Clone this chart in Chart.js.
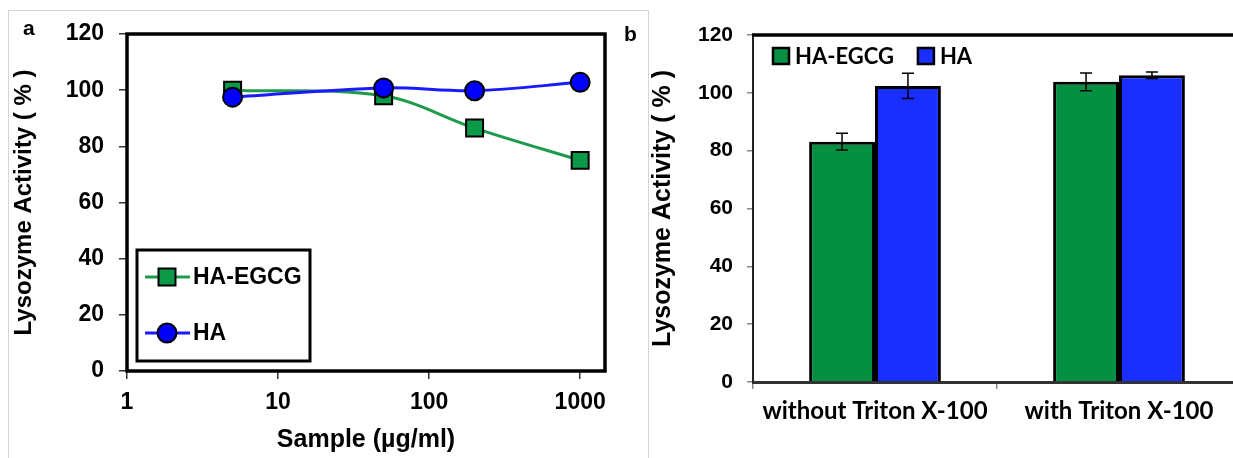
<!DOCTYPE html>
<html>
<head>
<meta charset="utf-8">
<script src="https://cdn.jsdelivr.net/npm/chart.js@4.4.1/dist/chart.umd.min.js"></script>
<style>
  html, body { margin: 0; padding: 0; background: #fff; overflow: hidden; width: 1233px; height: 458px; }
  .frame { position: absolute; left: 8px; top: 10px; width: 639px; height: 470px; border: 1px solid #d4d4d4; }
  #boxA { position: absolute; left: 0; top: 0; }
  #boxB { position: absolute; left: 620px; top: 0; }
  .tag { position: absolute; font: bold 21px 'Liberation Sans', Arial, sans-serif; color: #000; }
</style>
</head>
<body>
<div class="frame"></div>
<canvas id="boxA" width="620" height="458"></canvas>
<canvas id="boxB" width="640" height="458"></canvas>
<div class="tag" style="left:23px;top:16px">a</div>
<div class="tag" style="left:624px;top:22px">b</div>
<script>
// panel a: concentration series
const sampleConc = [5, 50, 200, 1000];
const haEgcgLine = [100, 98, 86.5, 75];
const haLine = [97.5, 100.8, 99.8, 102.8];
const xTicks = [1, 10, 100, 1000];

// panel b: Triton X-100 bars
const conditions = ['without Triton X-100', 'with Triton X-100'];
const haEgcgBar = [83.1, 103.8];
const haEgcgErr = [2.9, 3.1];
const haBar = [102.4, 106.1];
const haErr = [4.4, 1.1];

const yMax = 120;
const yStep = 20;

const GREEN = '#1e9a4c';
const BLUE = '#1a1aff';
const ARIAL = "'Liberation Sans', Arial, sans-serif";
const Y_TITLE = 'Lysozyme Activity ( % )';

const toPoints = vals => vals.map((v, i) => ({ x: sampleConc[i], y: v }));

// thick box round the plot area of panel a
const frameA = {
  id: 'frameA',
  beforeDatasetsDraw(chart) {
    const { ctx, chartArea: a } = chart;
    ctx.save();
    ctx.lineWidth = 3.5;
    ctx.strokeStyle = '#000';
    ctx.strokeRect(a.left, a.top, a.right - a.left, a.bottom - a.top);
    ctx.restore();
  }
};

// boxed legend sitting bottom-left inside the plot
const legendA = {
  id: 'legendA',
  afterDraw(chart) {
    const { ctx, chartArea: a } = chart;
    const bx = a.left + 10, by = a.bottom - 121;
    ctx.save();
    ctx.lineWidth = 3;
    ctx.strokeStyle = '#000';
    ctx.strokeRect(bx, by, 173, 111);
    chart.data.datasets.forEach((ds, i) => {
      const y = by + 27 + i * 56;
      ctx.strokeStyle = ds.borderColor;
      ctx.lineWidth = 3;
      ctx.beginPath();
      ctx.moveTo(bx + 8, y);
      ctx.lineTo(bx + 53, y);
      ctx.stroke();
      ctx.fillStyle = ds.pointBackgroundColor;
      ctx.strokeStyle = ds.pointBorderColor;
      ctx.lineWidth = ds.pointBorderWidth;
      Chart.helpers.drawPoint(ctx, { pointStyle: ds.pointStyle, radius: ds.pointRadius, borderWidth: ds.pointBorderWidth, rotation: 0 }, bx + 30, y);
      ctx.fillStyle = '#000';
      ctx.font = 'bold 23px ' + ARIAL;
      ctx.textBaseline = 'middle';
      ctx.fillText(ds.label, bx + 56, y + 1);
    });
    ctx.restore();
  }
};

new Chart(document.getElementById('boxA'), {
  type: 'line',
  data: {
    datasets: [
      {
        label: 'HA-EGCG',
        data: toPoints(haEgcgLine),
        order: 1,
        borderColor: GREEN,
        borderWidth: 3,
        tension: 0.35,
        pointStyle: 'rect',
        pointRadius: 12,
        pointBackgroundColor: '#0c9a48',
        pointBorderColor: '#000',
        pointBorderWidth: 2
      },
      {
        label: 'HA',
        data: toPoints(haLine),
        order: 0,
        borderColor: BLUE,
        borderWidth: 3,
        tension: 0.35,
        pointStyle: 'circle',
        pointRadius: 9.5,
        pointBackgroundColor: '#0000ff',
        pointBorderColor: '#000',
        pointBorderWidth: 2
      }
    ]
  },
  options: {
    responsive: false,
    animation: false,
    layout: { padding: { top: 34, right: 15, left: 0, bottom: 0 } },
    plugins: { legend: { display: false }, tooltip: { enabled: false } },
    scales: {
      x: {
        type: 'logarithmic',
        min: 1,
        max: 1460,
        afterBuildTicks: s => { s.ticks = xTicks.map(v => ({ value: v })); },
        afterFit: s => { s.height = 87; },
        border: { display: false },
        grid: { drawOnChartArea: false, drawTicks: true, tickLength: 8, color: '#333', lineWidth: 1.5 },
        ticks: { color: '#000', font: { family: ARIAL, size: 23, weight: 'bold' }, padding: 10, maxRotation: 0, callback: v => String(v) },
        title: { display: true, text: 'Sample (µg/ml)', color: '#000', font: { family: ARIAL, size: 25, weight: 'bold' }, padding: { top: 0, bottom: 3 } }
      },
      y: {
        min: 0,
        max: yMax,
        afterFit: s => { s.width = 127; },
        border: { display: false },
        grid: { drawOnChartArea: false, drawTicks: true, tickLength: 8, color: '#333', lineWidth: 1.5 },
        ticks: { stepSize: yStep, color: '#000', font: { family: ARIAL, size: 23, weight: 'bold' }, padding: 15 },
        title: { display: true, text: Y_TITLE, color: '#000', font: { family: ARIAL, size: 24, weight: 'bold' }, padding: { top: 10, bottom: 0 } }
      }
    }
  },
  plugins: [frameA, legendA]
});

// heavy top rule of panel b
const topRuleB = {
  id: 'topRuleB',
  afterDraw(chart) {
    const { ctx, chartArea: a } = chart;
    ctx.save();
    ctx.lineWidth = 3.5;
    ctx.strokeStyle = '#000';
    ctx.beginPath();
    ctx.moveTo(a.left - 1, a.top);
    ctx.lineTo(a.right + 2, a.top);
    ctx.stroke();
    ctx.restore();
  }
};

// legend row at top-left of panel b
const legendB = {
  id: 'legendB',
  afterDraw(chart) {
    const { ctx, chartArea: a } = chart;
    ctx.save();
    ctx.font = 'bold 22px Lato, sans-serif';
    ctx.textBaseline = 'middle';
    let x = a.left + 20;
    const y = a.top + 21;
    chart.data.datasets.forEach(ds => {
      ctx.fillStyle = ds.backgroundColor;
      ctx.fillRect(x, y - 8, 16, 16);
      ctx.lineWidth = 2.5;
      ctx.strokeStyle = '#000';
      ctx.strokeRect(x, y - 8, 16, 16);
      ctx.fillStyle = '#000';
      ctx.fillText(ds.label, x + 22, y + 1);
      x += 22 + ctx.measureText(ds.label).width + 24;
    });
    ctx.restore();
  }
};

// vertical error bars drawn through the y scale
const errorBars = {
  id: 'errorBars',
  afterDatasetsDraw(chart) {
    const { ctx } = chart;
    const ys = chart.scales.y;
    ctx.save();
    ctx.strokeStyle = '#000';
    ctx.lineWidth = 1.5;
    chart.data.datasets.forEach((ds, i) => {
      chart.getDatasetMeta(i).data.forEach((bar, j) => {
        const v = ds.data[j], e = ds.errors[j];
        const top = ys.getPixelForValue(v + e);
        const bot = ys.getPixelForValue(v - e);
        ctx.beginPath();
        ctx.moveTo(bar.x, top); ctx.lineTo(bar.x, bot);
        ctx.moveTo(bar.x - 6, top); ctx.lineTo(bar.x + 6, top);
        ctx.moveTo(bar.x - 6, bot); ctx.lineTo(bar.x + 6, bot);
        ctx.stroke();
      });
    });
    ctx.restore();
  }
};

new Chart(document.getElementById('boxB'), {
  type: 'bar',
  data: {
    labels: conditions,
    datasets: [
      { label: 'HA-EGCG', data: haEgcgBar, errors: haEgcgErr, backgroundColor: '#048f42', borderColor: '#000', borderWidth: 3 },
      { label: 'HA', data: haBar, errors: haErr, backgroundColor: '#1a2eff', borderColor: '#000', borderWidth: 3 }
    ]
  },
  options: {
    responsive: false,
    animation: false,
    layout: { padding: { top: 35, right: 19, left: 0, bottom: 0 } },
    plugins: { legend: { display: false }, tooltip: { enabled: false } },
    datasets: { bar: { categoryPercentage: 0.54, barPercentage: 1.0 } },
    scales: {
      x: {
        afterFit: s => { s.height = 76; },
        border: { display: true, color: '#333', width: 3 },
        grid: { drawOnChartArea: false, drawTicks: true, tickLength: 7, color: '#888', lineWidth: 1.5 },
        ticks: { color: '#000', font: { family: 'Lato, sans-serif', size: 24, weight: 'bold' }, padding: 8, maxRotation: 0 }
      },
      y: {
        min: 0,
        max: yMax,
        afterFit: s => { s.width = 133; },
        border: { display: true, color: '#222', width: 2 },
        grid: { drawOnChartArea: false, drawTicks: true, tickLength: 6, color: '#888', lineWidth: 1.5 },
        ticks: { stepSize: yStep, color: '#000', font: { family: ARIAL, size: 21, weight: 'bold' }, padding: 14 },
        title: { display: true, text: Y_TITLE, color: '#000', font: { family: ARIAL, size: 25, weight: 'bold' }, padding: { top: 28, bottom: 0 } }
      }
    }
  },
  plugins: [errorBars, topRuleB, legendB]
});
</script>
</body>
</html>
